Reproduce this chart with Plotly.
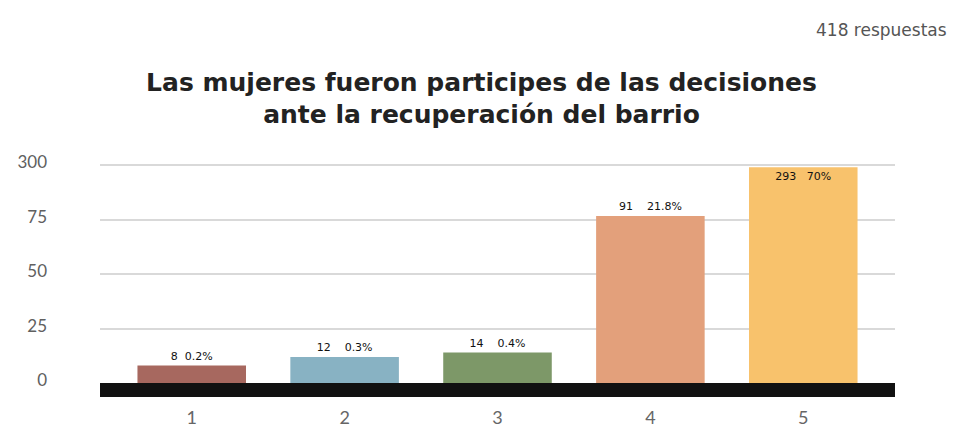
import numpy as np
import plotly.graph_objects as go

# Survey answers (scale 1-5)
categories = ["1", "2", "3", "4", "5"]
counts = [8, 12, 14, 91, 293]
percent_labels = ["0.2%", "0.3%", "0.4%", "21.8%", "70%"]
label_gaps = [2, 4, 4, 4, 3]  # spaces between count and percent, as in the source
bar_colors = ["#a7685f", "#88b2c3", "#7d9868", "#e3a07b", "#f8c26c"]

# The original axis is broken: ticks are evenly spaced but read 0, 25, 50, 75, 300
tick_values = [0, 25, 50, 75, 300]
tick_labels = ["0", "25", "50", "75", "300"]
total_answers = 418

tick_pos = list(range(len(tick_values)))


def to_axis(values):
    """Map raw counts onto the evenly spaced broken axis."""
    return np.interp(values, tick_values, tick_pos)


nb = "\u00a0"
bar_text = [f"{c}{nb * g}{p}" for c, g, p in zip(counts, label_gaps, percent_labels)]
text_pos = ["outside"] * 4 + ["inside"]

fig = go.Figure(
    go.Bar(
        x=categories,
        y=to_axis(counts),
        marker=dict(color=bar_colors, line=dict(width=0)),
        text=bar_text,
        textposition=text_pos,
        insidetextanchor="end",
        textangle=0,
        textfont=dict(family="DejaVu Sans", size=11, color="#111111"),
        cliponaxis=False,
    )
)

# the page body adds an 8px offset, so the figure is drawn 8px smaller
fig.update_layout(
    width=947,
    height=420,
    paper_bgcolor="white",
    plot_bgcolor="white",
    margin=dict(l=92, r=60, t=152, b=45),
    showlegend=False,
    bargap=0.29,
    title=dict(
        text="Las mujeres fueron participes de las decisiones<br>ante la recuperación del barrio",
        x=0.5,
        xanchor="center",
        y=1 - 82.5 / 420,
        yanchor="middle",
        font=dict(family="DejaVu Sans", size=25, color="#222222", weight="bold"),
    ),
    uniformtext=dict(minsize=11, mode="show"),
)

fig.update_xaxes(
    automargin=False,
    showline=True,
    linecolor="#111111",
    linewidth=14,
    showgrid=False,
    ticks="",
    ticklabelstandoff=5,
    tickfont=dict(family="Lato, DejaVu Sans", size=18, color="#666666"),
    range=[-0.6, 4.6],
)

fig.update_yaxes(
    automargin=False,
    range=[0, 4.1],
    tickvals=tick_pos,
    ticktext=tick_labels,
    showgrid=True,
    gridcolor="#d9d9d9",
    gridwidth=2,
    zeroline=False,
    showline=False,
    ticks="",
    ticklabelstandoff=52,
    ticklabelshift=-3,
    tickfont=dict(family="Lato, DejaVu Sans", size=17, color="#606060"),
)

# Response count in the top-right corner
fig.add_annotation(
    text=f"{total_answers} respuestas",
    xref="paper",
    yref="paper",
    x=1.0,
    xshift=54,
    y=1 + 130 / 223,
    xanchor="right",
    yanchor="middle",
    showarrow=False,
    font=dict(family="DejaVu Sans", size=17, color="#555555"),
)

fig.write_html("out.html")
